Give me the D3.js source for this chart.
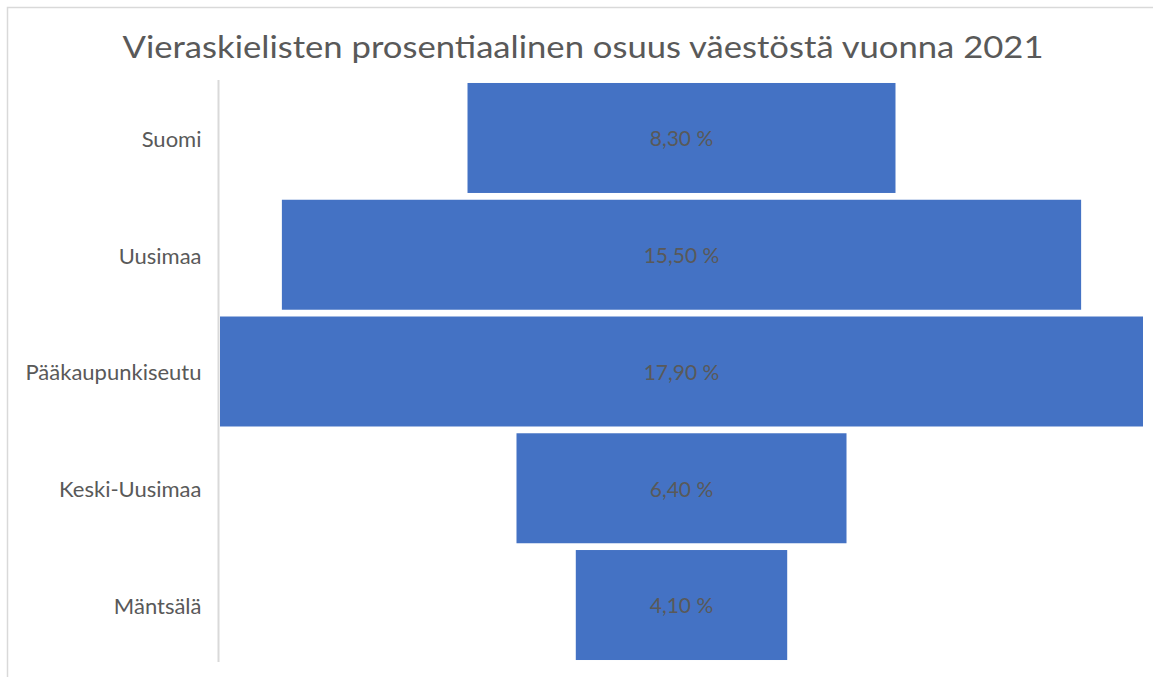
<!DOCTYPE html>
<html>
<head>
<meta charset="utf-8">
<script src="https://cdn.jsdelivr.net/npm/d3@7"></script>
<style>
    body { margin: 0; background: #ffffff; }
    text { font-family: Lato, "Open Sans", sans-serif; }
</style>
</head>
<body>
<div id="chart"></div>
<script>

// Chart data
const regions = ["Suomi", "Uusimaa", "Pääkaupunkiseutu", "Keski-Uusimaa", "Mäntsälä"];
const shares = [8.3, 15.5, 17.9, 6.4, 4.1];
const shareLabels = ["8,30 %", "15,50 %", "17,90 %", "6,40 %", "4,10 %"];
const chartTitle = "Vieraskielisten prosentiaalinen osuus väestöstä vuonna 2021";

const data = regions.map((r, i) => ({ region: r, value: shares[i], label: shareLabels[i] }));

const width = 1153, height = 677;

let svg = d3.select("#chart").append("svg")
    .attr("width", width)
    .attr("height", height);

// chart area border (right and bottom run off the picture)
svg.append("rect")
    .attr("x", 7.5)
    .attr("y", 7.5)
    .attr("width", 1160)
    .attr("height", 700)
    .style("fill", "none")
    .style("stroke", "#d9d9d9")
    .style("stroke-width", 1.5);

// Title
svg.append("text")
    .attr("x", 583)
    .attr("y", 58)
    .style("text-anchor", "middle")
    .style("font-size", "30px")
    .style("fill", "#595959")
    .attr("textLength", 921)
    .attr("lengthAdjust", "spacingAndGlyphs")
    .text(chartTitle);

// Scales
let y = d3.scaleBand()
    .domain(regions)
    .range([79.6, 663.4])
    .paddingInner(0.058)
    .paddingOuter(0.029);

let x = d3.scaleLinear()
    .domain([0, d3.max(shares)])
    .range([0, 923]);

let centre = 220 + x(d3.max(shares)) / 2;

// Bars, centred (funnel)
svg.selectAll(".bar")
    .data(data)
    .enter().append("rect")
    .attr("class", "bar")
    .attr("x", d => centre - x(d.value) / 2)
    .attr("y", d => y(d.region))
    .attr("width", d => x(d.value))
    .attr("height", y.bandwidth())
    .style("fill", "#4472c4");

// Value labels
svg.selectAll(".val")
    .data(data)
    .enter().append("text")
    .attr("class", "val")
    .attr("x", centre)
    .attr("y", d => y(d.region) + y.bandwidth() / 2 + 1)
    .attr("dy", "0.35em")
    .style("text-anchor", "middle")
    .style("font-size", "21px")
    .style("fill", "#595959")
    .text(d => d.label);

// Category axis
let yAxis = d3.axisLeft(y).tickSize(0).tickPadding(17);

let axisG = svg.append("g")
    .attr("class", "y-axis")
    .attr("transform", "translate(218.5,0)")
    .call(yAxis);

axisG.select(".domain")
    .attr("d", "M0,80V662")
    .style("stroke", "#d9d9d9")
    .style("stroke-width", 2);

axisG.selectAll(".tick text")
    .attr("dy", "0.4em")
    .style("font-family", "Lato, 'Open Sans', sans-serif")
    .style("font-size", "22px")
    .style("fill", "#595959");

</script>
</body>
</html>
